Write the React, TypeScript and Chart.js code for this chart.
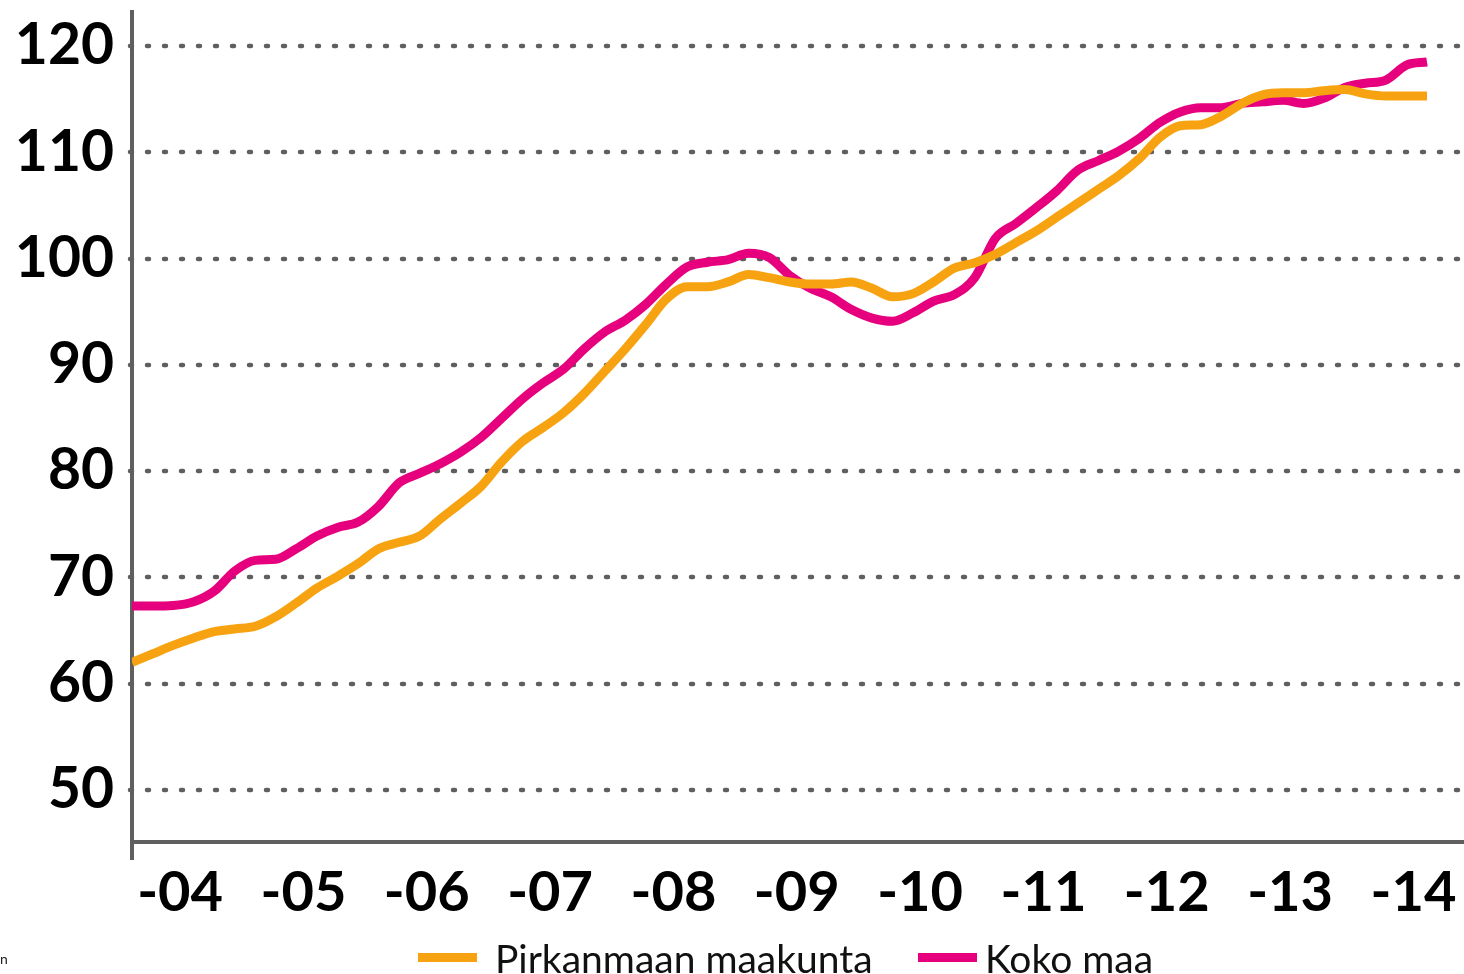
import React, { useEffect, useRef } from "react";
import { Chart, registerables } from "chart.js";

Chart.register(...registerables);

// Bi-monthly observations from Jan 2004 (index j → year 2004 + j/6)
const periodIndex: number[] = Array.from({ length: 64 }, (_, j) => j);
const startYear = 2004;
const periodsPerYear = 6;

const seriesNames = ["Pirkanmaan maakunta", "Koko maa"];

const pirkanmaa: number[] = [
  62.0, 62.8, 63.6, 64.3, 64.9, 65.15, 65.4, 66.3, 67.6, 69.0,
  70.1, 71.3, 72.7, 73.3, 73.9, 75.5, 77.0, 78.6, 80.9, 82.8,
  84.1, 85.5, 87.3, 89.4, 91.5, 93.8, 96.2, 97.35, 97.35, 97.8,
  98.5, 98.2, 97.8, 97.6, 97.6, 97.8, 97.2, 96.4, 96.7, 97.8,
  99.1, 99.6, 100.4, 101.5, 102.6, 103.9, 105.2, 106.5, 107.8, 109.4,
  111.4, 112.5, 112.6, 113.4, 114.6, 115.4, 115.6, 115.6, 115.8, 115.9,
  115.5, 115.3, 115.3, 115.3,
];

const kokoMaa: number[] = [
  67.3, 67.3, 67.35, 67.7, 68.7, 70.6, 71.6, 71.7, 72.7, 73.9,
  74.7, 75.2, 76.7, 78.9, 79.8, 80.7, 81.8, 83.2, 85.0, 86.8,
  88.3, 89.6, 91.5, 93.1, 94.2, 95.7, 97.6, 99.2, 99.65, 99.9,
  100.5, 100.1, 98.4, 97.2, 96.4, 95.2, 94.4, 94.1, 94.9, 96.0,
  96.6, 98.2, 101.9, 103.3, 104.8, 106.4, 108.3, 109.2, 110.1, 111.3,
  112.8, 113.8, 114.2, 114.2, 114.6, 114.75, 114.9, 114.6, 115.1, 116.1,
  116.5, 116.8, 118.2, 118.5,
];

const yTickValues: number[] = [50, 60, 70, 80, 90, 100, 110, 120];
const xTickYears: number[] = [2004, 2005, 2006, 2007, 2008, 2009, 2010, 2011, 2012, 2013, 2014];

const colors = ["#F7A311", "#E6007E"];
const axisColor = "#5f5f5f";

const dottedGrid = {
  id: "dottedGrid",
  beforeDatasetsDraw(chart: any) {
    const { ctx, chartArea, scales } = chart;
    const y = scales.y;
    ctx.save();
    ctx.strokeStyle = axisColor;
    ctx.lineWidth = 4.5;
    ctx.lineCap = "round";
    ctx.setLineDash([2, 15]);
    for (const v of yTickValues) {
      const py = Math.round(y.getPixelForValue(v));
      ctx.beginPath();
      ctx.moveTo(chartArea.left - 2, py);
      ctx.lineTo(chartArea.right + 5, py);
      ctx.stroke();
    }
    ctx.restore();
  },
};

const axisExtras = {
  id: "axisExtras",
  afterDraw(chart: any) {
    const { ctx, chartArea } = chart;
    ctx.save();
    ctx.strokeStyle = axisColor;
    ctx.lineWidth = 4;
    ctx.beginPath();
    ctx.moveTo(chartArea.left, chartArea.bottom);
    ctx.lineTo(chartArea.left, chartArea.bottom + 18);
    ctx.stroke();

    // legend
    const items = [
      { x: 418, textX: 495 },
      { x: 918, textX: 985 },
    ];
    chart.data.datasets.forEach((ds: any, i: number) => {
      const it = items[i];
      ctx.fillStyle = ds.borderColor;
      ctx.fillRect(it.x, 953, 59, 9);
      ctx.fillStyle = "#111";
      ctx.font = "39px Lato";
      ctx.textBaseline = "alphabetic";
      ctx.textAlign = "left";
      ctx.fillText(ds.label, it.textX, 973);
    });

    ctx.fillStyle = "#222";
    ctx.font = "14px Lato";
    ctx.fillText("n", 0, 964);
    ctx.restore();
  },
};

export default function App() {
  const ref = useRef<HTMLCanvasElement | null>(null);

  useEffect(() => {
    if (!ref.current) return;
    const times = periodIndex.map((j) => startYear + j / periodsPerYear);
    const chart = new Chart(ref.current, {
      type: "line",
      data: {
        datasets: [
          {
            label: seriesNames[0],
            data: times.map((t, i) => ({ x: t, y: pirkanmaa[i] })),
            borderColor: colors[0],
            backgroundColor: colors[0],
            borderWidth: 9,
            pointRadius: 0,
            cubicInterpolationMode: "monotone",
          },
          {
            label: seriesNames[1],
            data: times.map((t, i) => ({ x: t, y: kokoMaa[i] })),
            borderColor: colors[1],
            backgroundColor: colors[1],
            borderWidth: 9,
            pointRadius: 0,
            cubicInterpolationMode: "monotone",
          },
        ],
      },
      options: {
        responsive: false,
        animation: false,
        layout: { padding: { top: 12, left: 0, right: 0, bottom: 0 } },
        plugins: {
          legend: { display: false },
          tooltip: { enabled: false },
        },
        scales: {
          x: {
            type: "linear",
            min: 2004,
            max: 2014.8,
            afterFit(scale: any) {
              scale.height = 132;
              scale.paddingLeft = 0;
              scale.paddingRight = 0;
            },
            afterBuildTicks(scale: any) {
              scale.ticks = xTickYears.map((yr) => ({ value: yr + 0.39 }));
            },
            grid: { display: false, drawTicks: false },
            border: { display: true, color: axisColor, width: 4 },
            ticks: {
              autoSkip: false,
              maxRotation: 0,
              padding: 17,
              color: "#000",
              font: { family: "Lato", weight: "bold", size: 56 },
              callback: (v: any) => "-" + String(Math.floor(Number(v)) % 100).padStart(2, "0"),
            },
          },
          y: {
            type: "linear",
            min: 45.1,
            max: 123.2,
            afterFit(scale: any) {
              scale.width = 132;
              scale.paddingTop = 0;
              scale.paddingBottom = 0;
            },
            afterBuildTicks(scale: any) {
              scale.ticks = yTickValues.map((v) => ({ value: v }));
            },
            grid: { display: false, drawTicks: false },
            border: { display: true, color: axisColor, width: 4 },
            ticks: {
              padding: 18,
              color: "#000",
              font: { family: "Lato", weight: "bold", size: 57 },
              callback: (v: any) => String(v),
            },
          },
        },
      },
      plugins: [dottedGrid, axisExtras],
    } as any);
    return () => chart.destroy();
  }, []);

  return (
    <div style={{ position: "fixed", left: 0, top: 0, width: 1464, height: 974, background: "#fff" }}>
      <canvas ref={ref} width={1464} height={974} style={{ display: "block" }} />
    </div>
  );
}
